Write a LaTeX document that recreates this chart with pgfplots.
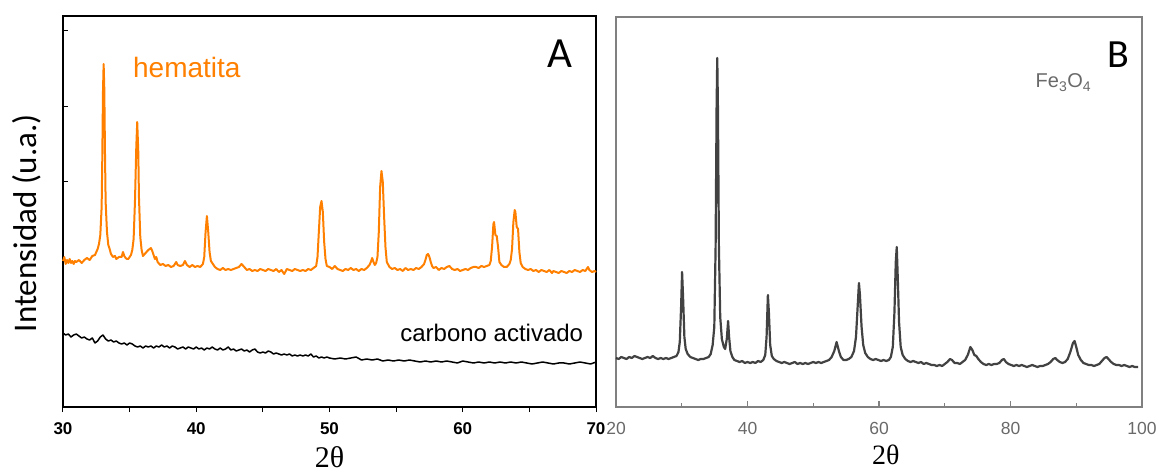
\documentclass[border=0pt]{standalone}
\usepackage{pgfplots}
\pgfplotsset{compat=1.18}
\usepackage{fontspec}
\setmainfont{Liberation Sans}
\newfontfamily\carlito{Carlito}
\newfontfamily\tnr{Liberation Serif}
\definecolor{hemorange}{RGB}{255,128,0}
\definecolor{framegray}{RGB}{128,128,128}
\definecolor{labgray}{RGB}{105,105,105}
\definecolor{curvegray}{RGB}{45,45,45}

\pgfplotstableread{
x y
30.0 146
30.1 150
30.2 143
30.3 147
30.4 144
30.5 148
30.6 144
30.7 146
30.8 143
30.9 146
31.0 145
31.2 147
31.4 144
31.6 147
31.8 149
32.0 147
32.2 151
32.4 152
32.5 155
32.6 158
32.7 163
32.8 172
32.9 200
32.95 250
33.0 315
33.05 343
33.1 318
33.15 255
33.2 205
33.3 175
33.4 162
33.5 158
33.6 153
33.75 150
33.9 151
34.0 148
34.2 150
34.4 150
34.5 155
34.6 151
34.7 149
34.8 148
34.9 148
35.0 150
35.1 152
35.2 157
35.3 168
35.4 205
35.5 260
35.57 285
35.65 255
35.7 210
35.8 170
35.9 157
36.0 151
36.2 154
36.4 157
36.6 159
36.7 156
36.8 152
36.9 148
37.0 150
37.1 145
37.3 142
37.5 143
37.7 141
37.9 142
38.1 140
38.3 141
38.5 145
38.6 142
38.8 141
39.0 142
39.15 146
39.3 142
39.5 140
39.7 142
39.9 140
40.1 141
40.3 140
40.5 143
40.6 150
40.7 175
40.8 191
40.9 175
41.0 155
41.1 146
41.2 144
41.4 140
41.6 138
41.8 137
42.0 139
42.2 137
42.4 138
42.6 137
42.8 138
43.0 139
43.2 140
43.4 143
43.6 140
43.8 137
44.0 138
44.2 136
44.4 137
44.6 136
44.8 138
45.0 137
45.2 136
45.4 138
45.6 137
45.8 136
46.0 138
46.2 135
46.4 137
46.6 133
46.8 138
47.0 137
47.2 136
47.4 138
47.6 137
47.8 136
48.0 137
48.2 136
48.4 138
48.6 137
48.8 139
49.0 141
49.1 150
49.2 175
49.3 200
49.4 206
49.5 195
49.6 165
49.7 148
49.8 141
50.0 140
50.2 138
50.4 141
50.6 138
50.8 137
51.0 136
51.2 138
51.4 137
51.6 139
51.8 137
52.0 138
52.2 136
52.4 138
52.6 137
52.8 139
53.0 142
53.1 145
53.2 149
53.3 145
53.4 142
53.5 144
53.6 150
53.7 175
53.8 220
53.9 236
54.0 225
54.1 190
54.2 160
54.3 145
54.5 140
54.7 138
54.9 139
55.1 137
55.3 138
55.5 136
55.7 139
55.9 137
56.1 138
56.3 137
56.5 139
56.7 138
56.9 140
57.1 143
57.2 147
57.3 152
57.4 153
57.5 150
57.6 145
57.7 141
57.8 139
58.0 140
58.2 137
58.4 139
58.6 138
58.8 140
59.0 141
59.2 138
59.4 137
59.6 138
59.8 136
60.0 137
60.2 138
60.4 137
60.6 139
60.8 140
61.0 140
61.2 139
61.4 141
61.6 140
61.8 141
62.0 142
62.1 146
62.2 160
62.3 183
62.35 185
62.45 172
62.55 171
62.65 160
62.75 145
62.9 142
63.1 140
63.3 140
63.5 143
63.6 147
63.7 158
63.8 185
63.9 197
63.95 195
64.05 180
64.15 178
64.25 155
64.35 144
64.5 140
64.7 138
64.9 137
65.1 138
65.3 136
65.5 137
65.7 135
65.9 137
66.1 136
66.3 135
66.5 137
66.7 134
66.8 136
67.0 135
67.2 134
67.4 136
67.6 135
67.8 134
68.0 136
68.2 135
68.4 137
68.6 136
68.8 135
69.0 137
69.2 136
69.4 140
69.5 137
69.7 135
69.9 136
70.0 135
}\hematita

\pgfplotstableread{
x y
30.0 74
30.2 72
30.4 73
30.6 70
30.8 72
31.0 73
31.2 71
31.4 69
31.6 70
31.8 68
32.0 67
32.2 69
32.4 64
32.6 66
32.8 70
33.0 72
33.2 68
33.4 66
33.6 67
33.8 65
34.0 66
34.2 64
34.4 63
34.6 64
34.8 62
35.0 64
35.2 63
35.4 61
35.6 60
35.8 61
36.0 59
36.2 61
36.4 60
36.6 61
36.8 59
37.0 61
37.2 60
37.4 62
37.6 60
37.8 61
38.0 59
38.2 61
38.4 60
38.6 58
38.8 59
39.0 60
39.2 58
39.4 60
39.6 59
39.8 58
40.0 60
40.2 58
40.4 59
40.6 57
40.8 59
41.0 58
41.2 60
41.4 58
41.6 57
41.8 59
42.0 57
42.2 58
42.4 60
42.6 57
42.8 58
43.0 56
43.2 57
43.4 58
43.6 56
43.8 57
44.0 55
44.2 57
44.4 58
44.6 55
44.8 54
45.0 55
45.2 54
45.4 56
45.6 55
45.8 53
46.0 54
46.2 53
46.4 52
46.6 53
46.8 52
47.0 53
47.2 51
47.4 52
47.6 51
47.8 52
48.0 51
48.2 52
48.4 51
48.6 53
48.8 50
49.0 51
49.2 49
49.4 50
49.6 49
49.8 50
50.0 49
50.4 48
50.8 49
51.2 48
51.6 49
52.0 50
52.4 47
52.8 48
53.2 47
53.6 48
54.0 46
54.4 47
54.8 46
55.2 47
55.6 46
56.0 47
56.4 46
56.8 45
57.2 46
57.6 45
58.0 46
58.4 45
58.8 46
59.2 45
59.6 44
60.0 46
60.4 45
60.8 44
61.2 45
61.6 44
62.0 45
62.4 44
62.8 45
63.2 44
63.6 45
64.0 44
64.4 45
64.8 44
65.2 43
65.6 44
66.0 45
66.4 44
66.8 43
67.2 44
67.6 44
68.0 43
68.4 44
68.8 45
69.2 44
69.6 43
70.0 45
}\carbono

\pgfplotstableread{
x y
20.0 49
20.4 48
20.8 50
21.2 49
21.6 48
22.0 50
22.4 49
22.8 51
23.2 50
23.6 49
24.0 48
24.4 49
24.8 50
25.2 49
25.6 51
26.0 49
26.4 48
26.8 49
27.2 48
27.6 49
28.0 48
28.4 49
28.8 50
29.2 51
29.5 55
29.7 65
29.9 100
30.05 135
30.2 110
30.4 70
30.6 58
30.9 53
31.3 50
31.7 49
32.1 48
32.5 47
32.9 48
33.3 48
33.7 49
34.1 50
34.4 53
34.7 62
34.95 80
35.15 160
35.3 300
35.4 349
35.5 300
35.65 160
35.85 90
36.1 68
36.4 60
36.6 58
36.85 68
37.05 86
37.2 70
37.4 56
37.7 50
38.0 47
38.4 46
38.8 45
39.2 46
39.6 44
40.0 45
40.4 44
40.8 45
41.2 44
41.6 46
42.0 45
42.4 47
42.7 52
42.9 70
43.1 112
43.25 95
43.45 62
43.7 51
44.0 48
44.4 46
44.8 45
45.2 44
45.6 45
46.0 44
46.4 43
46.8 44
47.2 45
47.6 43
48.0 44
48.4 43
48.8 44
49.2 43
49.6 44
50.0 45
50.4 44
50.8 45
51.2 44
51.6 45
52.0 46
52.4 47
52.8 50
53.2 56
53.55 65
53.9 56
54.2 50
54.6 47
55.0 47
55.4 48
55.8 50
56.2 56
56.5 70
56.75 100
56.95 124
57.1 112
57.35 80
57.6 62
57.9 54
58.3 50
58.7 48
59.1 47
59.5 48
59.9 47
60.3 46
60.7 47
61.1 46
61.5 47
61.8 50
62.1 60
62.35 95
62.55 145
62.7 160
62.85 130
63.05 85
63.3 60
63.6 52
64.0 48
64.4 46
64.8 45
65.2 46
65.6 45
66.0 44
66.4 45
66.8 43
67.2 44
67.6 43
68.0 42
68.4 42
68.8 41
69.2 42
69.6 41
70.0 43
70.4 45
70.8 48
71.1 47
71.5 44
71.9 44
72.3 43
72.7 45
73.1 47
73.5 52
73.9 60
74.2 57
74.5 52
74.8 51
75.1 48
75.5 45
75.9 43
76.3 42
76.7 43
77.1 42
77.5 43
77.9 43
78.3 44
78.7 47
79.0 48
79.3 45
79.7 43
80.1 42
80.5 41
80.9 42
81.3 41
81.7 42
82.1 41
82.5 40
82.9 41
83.3 42
83.7 41
84.1 40
84.5 41
84.9 41
85.3 42
85.7 43
86.1 45
86.5 48
86.8 49
87.1 47
87.5 45
87.9 44
88.3 45
88.7 48
89.1 55
89.5 64
89.75 66
90.0 60
90.3 52
90.7 47
91.1 44
91.5 43
91.9 42
92.3 42
92.7 41
93.1 42
93.5 43
93.9 46
94.3 49
94.6 50
94.9 48
95.3 45
95.7 43
96.1 42
96.5 42
96.9 41
97.3 42
97.7 41
98.1 40
98.5 41
98.9 40
99.4 40
}\magnetita

\begin{document}
\begin{tikzpicture}
\useasboundingbox (0,0) rectangle (1159pt,474pt);
% ---------------- Panel A ----------------
\begin{axis}[
  at={(63pt,67pt)}, anchor=south west,
  width=533pt, height=391pt, scale only axis,
  xmin=30, xmax=70, ymin=0, ymax=391,
  xtick={30,40,50,60,70},
  xticklabels={30,40,50,60,70},
  minor xtick={35,45,55,65},
  ytick={225,300,376}, yticklabels={},
  xtick pos=left, ytick pos=left,
  tick align=inside,
  major tick length=5pt, minor tick length=5pt,
  every x tick/.append style={yshift=-5pt},
  every tick/.append style={black, line width=1pt},
  axis line style={black, line width=1.3pt},
  xticklabel style={font=\fontsize{17}{17}\selectfont\bfseries, yshift=-12pt},
  xlabel={{\tnr 2θ}},
  xlabel style={font=\fontsize{30}{30}\selectfont, at={(axis description cs:0.5,-0.128)}, anchor=center},
  ylabel={Intensidad (u.a.)},
  ylabel style={font=\carlito\fontsize{33}{33}\selectfont, at={(axis description cs:-0.068,0.47)}, anchor=center, rotate=0},
  clip=false,
]
\addplot[hemorange, line width=2pt, line join=round] table[x=x,y=y] {\hematita};
\addplot[black, line width=1.5pt, line join=round] table[x=x,y=y] {\carbono};
\node[anchor=base west, text=hemorange, font=\fontsize{28}{28}\selectfont] at (axis cs:35.0,329) {hematita};
\node[anchor=base east, font=\fontsize{24}{24}\selectfont] at (axis cs:69.3,65) {carbono activado};
\node[anchor=base, font=\carlito\fontsize{43}{43}\selectfont] at (axis cs:67.3,339) {A};
\end{axis}
% ---------------- Panel B ----------------
\begin{axis}[
  at={(616pt,67pt)}, anchor=south west,
  width=526pt, height=390pt, scale only axis,
  xmin=20, xmax=100, ymin=0, ymax=390,
  xtick={20,40,60,80,100},
  xticklabels={20,40,60,80,100},
  minor xtick={30,50,70,90},
  ytick=\empty,
  xtick pos=left,
  tick align=inside,
  major tick length=6pt, minor tick length=4pt,
  every tick/.append style={framegray, line width=1.3pt},
  axis line style={framegray, line width=1.8pt},
  xticklabel style={font=\fontsize{17.5}{17.5}\selectfont, text=labgray, yshift=-12pt},
  xlabel={{\tnr 2θ}},
  xlabel style={font=\fontsize{28}{28}\selectfont, at={(axis description cs:0.513,-0.122)}, anchor=center},
  clip=false,
]
\addplot[curvegray, line width=2.2pt, line join=round, opacity=0.9] table[x=x,y=y] {\magnetita};
\node[anchor=base west, text=labgray, font=\fontsize{20}{20}\selectfont] at (axis cs:83.3,319) {Fe\textsubscript{3}O\textsubscript{4}};
\node[anchor=base west, font=\carlito\fontsize{40}{40}\selectfont] at (axis cs:94.2,339) {B};
\end{axis}
\end{tikzpicture}
\end{document}
